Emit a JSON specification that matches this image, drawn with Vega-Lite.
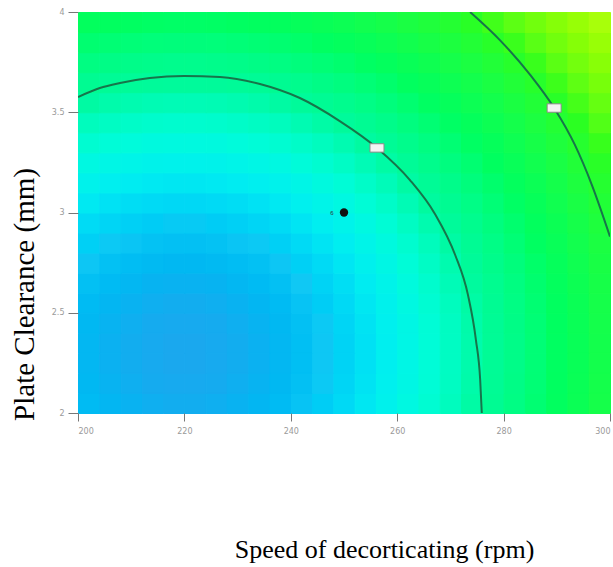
{
  "$schema": "https://vega.github.io/schema/vega-lite/v6.json",
  "width": 532,
  "height": 401,
  "autosize": "none",
  "padding": {"left": 78, "top": 12, "right": 3, "bottom": 154},
  "background": "white",
  "config": {
    "view": {"stroke": null},
    "axis": {
      "grid": false,
      "domain": false,
      "labelFontSize": 8,
      "labelColor": "#9a9a9a",
      "labelFont": "DejaVu Sans",
      "tickColor": "#777777",
      "tickSize": 8,
      "titleFont": "Liberation Serif",
      "titleFontWeight": "normal",
      "titleColor": "#000000"
    }
  },
  "datasets": {
    "grid": [
      {"x":202,"y":2.05,"f":0.24},{"x":206,"y":2.05,"f":0.17},{"x":210,"y":2.05,"f":0.12},{"x":214,"y":2.05,"f":0.08},{"x":218,"y":2.05,"f":0.06},{"x":222,"y":2.05,"f":0.06},{"x":226,"y":2.05,"f":0.08},{"x":230,"y":2.05,"f":0.12},{"x":234,"y":2.05,"f":0.17},{"x":238,"y":2.05,"f":0.24},{"x":242,"y":2.05,"f":0.34},{"x":246,"y":2.05,"f":0.45},{"x":250,"y":2.05,"f":0.57},{"x":254,"y":2.05,"f":0.72},{"x":258,"y":2.05,"f":0.88},{"x":262,"y":2.05,"f":1.07},{"x":266,"y":2.05,"f":1.27},{"x":270,"y":2.05,"f":1.49},{"x":274,"y":2.05,"f":1.72},{"x":278,"y":2.05,"f":1.98},{"x":282,"y":2.05,"f":2.25},{"x":286,"y":2.05,"f":2.54},{"x":290,"y":2.05,"f":2.85},{"x":294,"y":2.05,"f":3.18},{"x":298,"y":2.05,"f":3.53},
      {"x":202,"y":2.15,"f":0.20},{"x":206,"y":2.15,"f":0.13},{"x":210,"y":2.15,"f":0.08},{"x":214,"y":2.15,"f":0.04},{"x":218,"y":2.15,"f":0.02},{"x":222,"y":2.15,"f":0.02},{"x":226,"y":2.15,"f":0.04},{"x":230,"y":2.15,"f":0.08},{"x":234,"y":2.15,"f":0.13},{"x":238,"y":2.15,"f":0.20},{"x":242,"y":2.15,"f":0.30},{"x":246,"y":2.15,"f":0.41},{"x":250,"y":2.15,"f":0.53},{"x":254,"y":2.15,"f":0.68},{"x":258,"y":2.15,"f":0.84},{"x":262,"y":2.15,"f":1.03},{"x":266,"y":2.15,"f":1.23},{"x":270,"y":2.15,"f":1.45},{"x":274,"y":2.15,"f":1.68},{"x":278,"y":2.15,"f":1.94},{"x":282,"y":2.15,"f":2.21},{"x":286,"y":2.15,"f":2.50},{"x":290,"y":2.15,"f":2.81},{"x":294,"y":2.15,"f":3.14},{"x":298,"y":2.15,"f":3.49},
      {"x":202,"y":2.25,"f":0.18},{"x":206,"y":2.25,"f":0.11},{"x":210,"y":2.25,"f":0.06},{"x":214,"y":2.25,"f":0.02},{"x":218,"y":2.25,"f":0.00},{"x":222,"y":2.25,"f":0.00},{"x":226,"y":2.25,"f":0.02},{"x":230,"y":2.25,"f":0.06},{"x":234,"y":2.25,"f":0.11},{"x":238,"y":2.25,"f":0.18},{"x":242,"y":2.25,"f":0.28},{"x":246,"y":2.25,"f":0.39},{"x":250,"y":2.25,"f":0.51},{"x":254,"y":2.25,"f":0.66},{"x":258,"y":2.25,"f":0.82},{"x":262,"y":2.25,"f":1.01},{"x":266,"y":2.25,"f":1.21},{"x":270,"y":2.25,"f":1.43},{"x":274,"y":2.25,"f":1.66},{"x":278,"y":2.25,"f":1.92},{"x":282,"y":2.25,"f":2.19},{"x":286,"y":2.25,"f":2.48},{"x":290,"y":2.25,"f":2.79},{"x":294,"y":2.25,"f":3.12},{"x":298,"y":2.25,"f":3.47},
      {"x":202,"y":2.35,"f":0.18},{"x":206,"y":2.35,"f":0.11},{"x":210,"y":2.35,"f":0.06},{"x":214,"y":2.35,"f":0.02},{"x":218,"y":2.35,"f":0.00},{"x":222,"y":2.35,"f":0.00},{"x":226,"y":2.35,"f":0.02},{"x":230,"y":2.35,"f":0.06},{"x":234,"y":2.35,"f":0.11},{"x":238,"y":2.35,"f":0.18},{"x":242,"y":2.35,"f":0.28},{"x":246,"y":2.35,"f":0.39},{"x":250,"y":2.35,"f":0.51},{"x":254,"y":2.35,"f":0.66},{"x":258,"y":2.35,"f":0.82},{"x":262,"y":2.35,"f":1.01},{"x":266,"y":2.35,"f":1.21},{"x":270,"y":2.35,"f":1.43},{"x":274,"y":2.35,"f":1.66},{"x":278,"y":2.35,"f":1.92},{"x":282,"y":2.35,"f":2.19},{"x":286,"y":2.35,"f":2.48},{"x":290,"y":2.35,"f":2.79},{"x":294,"y":2.35,"f":3.12},{"x":298,"y":2.35,"f":3.47},
      {"x":202,"y":2.45,"f":0.20},{"x":206,"y":2.45,"f":0.13},{"x":210,"y":2.45,"f":0.08},{"x":214,"y":2.45,"f":0.04},{"x":218,"y":2.45,"f":0.02},{"x":222,"y":2.45,"f":0.02},{"x":226,"y":2.45,"f":0.04},{"x":230,"y":2.45,"f":0.08},{"x":234,"y":2.45,"f":0.13},{"x":238,"y":2.45,"f":0.20},{"x":242,"y":2.45,"f":0.30},{"x":246,"y":2.45,"f":0.41},{"x":250,"y":2.45,"f":0.53},{"x":254,"y":2.45,"f":0.68},{"x":258,"y":2.45,"f":0.84},{"x":262,"y":2.45,"f":1.03},{"x":266,"y":2.45,"f":1.23},{"x":270,"y":2.45,"f":1.45},{"x":274,"y":2.45,"f":1.68},{"x":278,"y":2.45,"f":1.94},{"x":282,"y":2.45,"f":2.21},{"x":286,"y":2.45,"f":2.50},{"x":290,"y":2.45,"f":2.81},{"x":294,"y":2.45,"f":3.14},{"x":298,"y":2.45,"f":3.49},
      {"x":202,"y":2.55,"f":0.24},{"x":206,"y":2.55,"f":0.17},{"x":210,"y":2.55,"f":0.12},{"x":214,"y":2.55,"f":0.08},{"x":218,"y":2.55,"f":0.06},{"x":222,"y":2.55,"f":0.06},{"x":226,"y":2.55,"f":0.08},{"x":230,"y":2.55,"f":0.12},{"x":234,"y":2.55,"f":0.17},{"x":238,"y":2.55,"f":0.24},{"x":242,"y":2.55,"f":0.34},{"x":246,"y":2.55,"f":0.45},{"x":250,"y":2.55,"f":0.57},{"x":254,"y":2.55,"f":0.72},{"x":258,"y":2.55,"f":0.88},{"x":262,"y":2.55,"f":1.07},{"x":266,"y":2.55,"f":1.27},{"x":270,"y":2.55,"f":1.49},{"x":274,"y":2.55,"f":1.72},{"x":278,"y":2.55,"f":1.98},{"x":282,"y":2.55,"f":2.25},{"x":286,"y":2.55,"f":2.54},{"x":290,"y":2.55,"f":2.85},{"x":294,"y":2.55,"f":3.18},{"x":298,"y":2.55,"f":3.53},
      {"x":202,"y":2.65,"f":0.30},{"x":206,"y":2.65,"f":0.23},{"x":210,"y":2.65,"f":0.18},{"x":214,"y":2.65,"f":0.14},{"x":218,"y":2.65,"f":0.12},{"x":222,"y":2.65,"f":0.12},{"x":226,"y":2.65,"f":0.14},{"x":230,"y":2.65,"f":0.18},{"x":234,"y":2.65,"f":0.23},{"x":238,"y":2.65,"f":0.30},{"x":242,"y":2.65,"f":0.40},{"x":246,"y":2.65,"f":0.51},{"x":250,"y":2.65,"f":0.63},{"x":254,"y":2.65,"f":0.78},{"x":258,"y":2.65,"f":0.94},{"x":262,"y":2.65,"f":1.13},{"x":266,"y":2.65,"f":1.33},{"x":270,"y":2.65,"f":1.55},{"x":274,"y":2.65,"f":1.78},{"x":278,"y":2.65,"f":2.04},{"x":282,"y":2.65,"f":2.31},{"x":286,"y":2.65,"f":2.60},{"x":290,"y":2.65,"f":2.91},{"x":294,"y":2.65,"f":3.24},{"x":298,"y":2.65,"f":3.59},
      {"x":202,"y":2.75,"f":0.38},{"x":206,"y":2.75,"f":0.31},{"x":210,"y":2.75,"f":0.26},{"x":214,"y":2.75,"f":0.22},{"x":218,"y":2.75,"f":0.20},{"x":222,"y":2.75,"f":0.20},{"x":226,"y":2.75,"f":0.22},{"x":230,"y":2.75,"f":0.26},{"x":234,"y":2.75,"f":0.31},{"x":238,"y":2.75,"f":0.38},{"x":242,"y":2.75,"f":0.48},{"x":246,"y":2.75,"f":0.59},{"x":250,"y":2.75,"f":0.71},{"x":254,"y":2.75,"f":0.86},{"x":258,"y":2.75,"f":1.02},{"x":262,"y":2.75,"f":1.21},{"x":266,"y":2.75,"f":1.41},{"x":270,"y":2.75,"f":1.63},{"x":274,"y":2.75,"f":1.86},{"x":278,"y":2.75,"f":2.12},{"x":282,"y":2.75,"f":2.39},{"x":286,"y":2.75,"f":2.68},{"x":290,"y":2.75,"f":2.99},{"x":294,"y":2.75,"f":3.32},{"x":298,"y":2.75,"f":3.67},
      {"x":202,"y":2.85,"f":0.48},{"x":206,"y":2.85,"f":0.41},{"x":210,"y":2.85,"f":0.36},{"x":214,"y":2.85,"f":0.32},{"x":218,"y":2.85,"f":0.30},{"x":222,"y":2.85,"f":0.30},{"x":226,"y":2.85,"f":0.32},{"x":230,"y":2.85,"f":0.36},{"x":234,"y":2.85,"f":0.41},{"x":238,"y":2.85,"f":0.48},{"x":242,"y":2.85,"f":0.58},{"x":246,"y":2.85,"f":0.69},{"x":250,"y":2.85,"f":0.81},{"x":254,"y":2.85,"f":0.96},{"x":258,"y":2.85,"f":1.12},{"x":262,"y":2.85,"f":1.31},{"x":266,"y":2.85,"f":1.51},{"x":270,"y":2.85,"f":1.73},{"x":274,"y":2.85,"f":1.96},{"x":278,"y":2.85,"f":2.22},{"x":282,"y":2.85,"f":2.49},{"x":286,"y":2.85,"f":2.78},{"x":290,"y":2.85,"f":3.09},{"x":294,"y":2.85,"f":3.42},{"x":298,"y":2.85,"f":3.77},
      {"x":202,"y":2.95,"f":0.60},{"x":206,"y":2.95,"f":0.53},{"x":210,"y":2.95,"f":0.48},{"x":214,"y":2.95,"f":0.44},{"x":218,"y":2.95,"f":0.42},{"x":222,"y":2.95,"f":0.42},{"x":226,"y":2.95,"f":0.44},{"x":230,"y":2.95,"f":0.48},{"x":234,"y":2.95,"f":0.53},{"x":238,"y":2.95,"f":0.60},{"x":242,"y":2.95,"f":0.70},{"x":246,"y":2.95,"f":0.81},{"x":250,"y":2.95,"f":0.93},{"x":254,"y":2.95,"f":1.08},{"x":258,"y":2.95,"f":1.24},{"x":262,"y":2.95,"f":1.43},{"x":266,"y":2.95,"f":1.63},{"x":270,"y":2.95,"f":1.85},{"x":274,"y":2.95,"f":2.08},{"x":278,"y":2.95,"f":2.34},{"x":282,"y":2.95,"f":2.61},{"x":286,"y":2.95,"f":2.90},{"x":290,"y":2.95,"f":3.21},{"x":294,"y":2.95,"f":3.54},{"x":298,"y":2.95,"f":3.89},
      {"x":202,"y":3.05,"f":0.74},{"x":206,"y":3.05,"f":0.67},{"x":210,"y":3.05,"f":0.62},{"x":214,"y":3.05,"f":0.58},{"x":218,"y":3.05,"f":0.56},{"x":222,"y":3.05,"f":0.56},{"x":226,"y":3.05,"f":0.58},{"x":230,"y":3.05,"f":0.62},{"x":234,"y":3.05,"f":0.67},{"x":238,"y":3.05,"f":0.74},{"x":242,"y":3.05,"f":0.84},{"x":246,"y":3.05,"f":0.95},{"x":250,"y":3.05,"f":1.07},{"x":254,"y":3.05,"f":1.22},{"x":258,"y":3.05,"f":1.38},{"x":262,"y":3.05,"f":1.57},{"x":266,"y":3.05,"f":1.77},{"x":270,"y":3.05,"f":1.99},{"x":274,"y":3.05,"f":2.22},{"x":278,"y":3.05,"f":2.48},{"x":282,"y":3.05,"f":2.75},{"x":286,"y":3.05,"f":3.04},{"x":290,"y":3.05,"f":3.35},{"x":294,"y":3.05,"f":3.68},{"x":298,"y":3.05,"f":4.03},
      {"x":202,"y":3.15,"f":0.90},{"x":206,"y":3.15,"f":0.83},{"x":210,"y":3.15,"f":0.78},{"x":214,"y":3.15,"f":0.74},{"x":218,"y":3.15,"f":0.72},{"x":222,"y":3.15,"f":0.72},{"x":226,"y":3.15,"f":0.74},{"x":230,"y":3.15,"f":0.78},{"x":234,"y":3.15,"f":0.83},{"x":238,"y":3.15,"f":0.90},{"x":242,"y":3.15,"f":1.00},{"x":246,"y":3.15,"f":1.11},{"x":250,"y":3.15,"f":1.23},{"x":254,"y":3.15,"f":1.38},{"x":258,"y":3.15,"f":1.54},{"x":262,"y":3.15,"f":1.73},{"x":266,"y":3.15,"f":1.93},{"x":270,"y":3.15,"f":2.15},{"x":274,"y":3.15,"f":2.38},{"x":278,"y":3.15,"f":2.64},{"x":282,"y":3.15,"f":2.91},{"x":286,"y":3.15,"f":3.20},{"x":290,"y":3.15,"f":3.51},{"x":294,"y":3.15,"f":3.84},{"x":298,"y":3.15,"f":4.19},
      {"x":202,"y":3.25,"f":1.08},{"x":206,"y":3.25,"f":1.01},{"x":210,"y":3.25,"f":0.96},{"x":214,"y":3.25,"f":0.92},{"x":218,"y":3.25,"f":0.90},{"x":222,"y":3.25,"f":0.90},{"x":226,"y":3.25,"f":0.92},{"x":230,"y":3.25,"f":0.96},{"x":234,"y":3.25,"f":1.01},{"x":238,"y":3.25,"f":1.08},{"x":242,"y":3.25,"f":1.18},{"x":246,"y":3.25,"f":1.29},{"x":250,"y":3.25,"f":1.41},{"x":254,"y":3.25,"f":1.56},{"x":258,"y":3.25,"f":1.72},{"x":262,"y":3.25,"f":1.91},{"x":266,"y":3.25,"f":2.11},{"x":270,"y":3.25,"f":2.33},{"x":274,"y":3.25,"f":2.56},{"x":278,"y":3.25,"f":2.82},{"x":282,"y":3.25,"f":3.09},{"x":286,"y":3.25,"f":3.38},{"x":290,"y":3.25,"f":3.69},{"x":294,"y":3.25,"f":4.02},{"x":298,"y":3.25,"f":4.37},
      {"x":202,"y":3.35,"f":1.28},{"x":206,"y":3.35,"f":1.21},{"x":210,"y":3.35,"f":1.16},{"x":214,"y":3.35,"f":1.12},{"x":218,"y":3.35,"f":1.10},{"x":222,"y":3.35,"f":1.10},{"x":226,"y":3.35,"f":1.12},{"x":230,"y":3.35,"f":1.16},{"x":234,"y":3.35,"f":1.21},{"x":238,"y":3.35,"f":1.28},{"x":242,"y":3.35,"f":1.38},{"x":246,"y":3.35,"f":1.49},{"x":250,"y":3.35,"f":1.61},{"x":254,"y":3.35,"f":1.76},{"x":258,"y":3.35,"f":1.92},{"x":262,"y":3.35,"f":2.11},{"x":266,"y":3.35,"f":2.31},{"x":270,"y":3.35,"f":2.53},{"x":274,"y":3.35,"f":2.76},{"x":278,"y":3.35,"f":3.02},{"x":282,"y":3.35,"f":3.29},{"x":286,"y":3.35,"f":3.58},{"x":290,"y":3.35,"f":3.89},{"x":294,"y":3.35,"f":4.22},{"x":298,"y":3.35,"f":4.57},
      {"x":202,"y":3.45,"f":1.50},{"x":206,"y":3.45,"f":1.43},{"x":210,"y":3.45,"f":1.38},{"x":214,"y":3.45,"f":1.34},{"x":218,"y":3.45,"f":1.32},{"x":222,"y":3.45,"f":1.32},{"x":226,"y":3.45,"f":1.34},{"x":230,"y":3.45,"f":1.38},{"x":234,"y":3.45,"f":1.43},{"x":238,"y":3.45,"f":1.50},{"x":242,"y":3.45,"f":1.60},{"x":246,"y":3.45,"f":1.71},{"x":250,"y":3.45,"f":1.83},{"x":254,"y":3.45,"f":1.98},{"x":258,"y":3.45,"f":2.14},{"x":262,"y":3.45,"f":2.33},{"x":266,"y":3.45,"f":2.53},{"x":270,"y":3.45,"f":2.75},{"x":274,"y":3.45,"f":2.98},{"x":278,"y":3.45,"f":3.24},{"x":282,"y":3.45,"f":3.51},{"x":286,"y":3.45,"f":3.80},{"x":290,"y":3.45,"f":4.11},{"x":294,"y":3.45,"f":4.44},{"x":298,"y":3.45,"f":4.79},
      {"x":202,"y":3.55,"f":1.74},{"x":206,"y":3.55,"f":1.67},{"x":210,"y":3.55,"f":1.62},{"x":214,"y":3.55,"f":1.58},{"x":218,"y":3.55,"f":1.56},{"x":222,"y":3.55,"f":1.56},{"x":226,"y":3.55,"f":1.58},{"x":230,"y":3.55,"f":1.62},{"x":234,"y":3.55,"f":1.67},{"x":238,"y":3.55,"f":1.74},{"x":242,"y":3.55,"f":1.84},{"x":246,"y":3.55,"f":1.95},{"x":250,"y":3.55,"f":2.07},{"x":254,"y":3.55,"f":2.22},{"x":258,"y":3.55,"f":2.38},{"x":262,"y":3.55,"f":2.57},{"x":266,"y":3.55,"f":2.77},{"x":270,"y":3.55,"f":2.99},{"x":274,"y":3.55,"f":3.22},{"x":278,"y":3.55,"f":3.48},{"x":282,"y":3.55,"f":3.75},{"x":286,"y":3.55,"f":4.04},{"x":290,"y":3.55,"f":4.35},{"x":294,"y":3.55,"f":4.68},{"x":298,"y":3.55,"f":5.03},
      {"x":202,"y":3.65,"f":2.00},{"x":206,"y":3.65,"f":1.93},{"x":210,"y":3.65,"f":1.88},{"x":214,"y":3.65,"f":1.84},{"x":218,"y":3.65,"f":1.82},{"x":222,"y":3.65,"f":1.82},{"x":226,"y":3.65,"f":1.84},{"x":230,"y":3.65,"f":1.88},{"x":234,"y":3.65,"f":1.93},{"x":238,"y":3.65,"f":2.00},{"x":242,"y":3.65,"f":2.10},{"x":246,"y":3.65,"f":2.21},{"x":250,"y":3.65,"f":2.33},{"x":254,"y":3.65,"f":2.48},{"x":258,"y":3.65,"f":2.64},{"x":262,"y":3.65,"f":2.83},{"x":266,"y":3.65,"f":3.03},{"x":270,"y":3.65,"f":3.25},{"x":274,"y":3.65,"f":3.48},{"x":278,"y":3.65,"f":3.74},{"x":282,"y":3.65,"f":4.01},{"x":286,"y":3.65,"f":4.30},{"x":290,"y":3.65,"f":4.61},{"x":294,"y":3.65,"f":4.94},{"x":298,"y":3.65,"f":5.29},
      {"x":202,"y":3.75,"f":2.28},{"x":206,"y":3.75,"f":2.21},{"x":210,"y":3.75,"f":2.16},{"x":214,"y":3.75,"f":2.12},{"x":218,"y":3.75,"f":2.10},{"x":222,"y":3.75,"f":2.10},{"x":226,"y":3.75,"f":2.12},{"x":230,"y":3.75,"f":2.16},{"x":234,"y":3.75,"f":2.21},{"x":238,"y":3.75,"f":2.28},{"x":242,"y":3.75,"f":2.38},{"x":246,"y":3.75,"f":2.49},{"x":250,"y":3.75,"f":2.61},{"x":254,"y":3.75,"f":2.76},{"x":258,"y":3.75,"f":2.92},{"x":262,"y":3.75,"f":3.11},{"x":266,"y":3.75,"f":3.31},{"x":270,"y":3.75,"f":3.53},{"x":274,"y":3.75,"f":3.76},{"x":278,"y":3.75,"f":4.02},{"x":282,"y":3.75,"f":4.29},{"x":286,"y":3.75,"f":4.58},{"x":290,"y":3.75,"f":4.89},{"x":294,"y":3.75,"f":5.22},{"x":298,"y":3.75,"f":5.57},
      {"x":202,"y":3.85,"f":2.58},{"x":206,"y":3.85,"f":2.51},{"x":210,"y":3.85,"f":2.46},{"x":214,"y":3.85,"f":2.42},{"x":218,"y":3.85,"f":2.40},{"x":222,"y":3.85,"f":2.40},{"x":226,"y":3.85,"f":2.42},{"x":230,"y":3.85,"f":2.46},{"x":234,"y":3.85,"f":2.51},{"x":238,"y":3.85,"f":2.58},{"x":242,"y":3.85,"f":2.68},{"x":246,"y":3.85,"f":2.79},{"x":250,"y":3.85,"f":2.91},{"x":254,"y":3.85,"f":3.06},{"x":258,"y":3.85,"f":3.22},{"x":262,"y":3.85,"f":3.41},{"x":266,"y":3.85,"f":3.61},{"x":270,"y":3.85,"f":3.83},{"x":274,"y":3.85,"f":4.06},{"x":278,"y":3.85,"f":4.32},{"x":282,"y":3.85,"f":4.59},{"x":286,"y":3.85,"f":4.88},{"x":290,"y":3.85,"f":5.19},{"x":294,"y":3.85,"f":5.52},{"x":298,"y":3.85,"f":5.87},
      {"x":202,"y":3.95,"f":2.90},{"x":206,"y":3.95,"f":2.83},{"x":210,"y":3.95,"f":2.78},{"x":214,"y":3.95,"f":2.74},{"x":218,"y":3.95,"f":2.72},{"x":222,"y":3.95,"f":2.72},{"x":226,"y":3.95,"f":2.74},{"x":230,"y":3.95,"f":2.78},{"x":234,"y":3.95,"f":2.83},{"x":238,"y":3.95,"f":2.90},{"x":242,"y":3.95,"f":3.00},{"x":246,"y":3.95,"f":3.11},{"x":250,"y":3.95,"f":3.23},{"x":254,"y":3.95,"f":3.38},{"x":258,"y":3.95,"f":3.54},{"x":262,"y":3.95,"f":3.73},{"x":266,"y":3.95,"f":3.93},{"x":270,"y":3.95,"f":4.15},{"x":274,"y":3.95,"f":4.38},{"x":278,"y":3.95,"f":4.64},{"x":282,"y":3.95,"f":4.91},{"x":286,"y":3.95,"f":5.20},{"x":290,"y":3.95,"f":5.51},{"x":294,"y":3.95,"f":5.84},{"x":298,"y":3.95,"f":6.19}
    ],
    "contours": [
      {"level":"c1","i":1,"x":200.0,"y":3.576},
      {"level":"c1","i":2,"x":204.1,"y":3.621},
      {"level":"c1","i":3,"x":207.9,"y":3.646},
      {"level":"c1","i":4,"x":213.5,"y":3.671},
      {"level":"c1","i":5,"x":219.9,"y":3.681},
      {"level":"c1","i":6,"x":226.7,"y":3.676},
      {"level":"c1","i":7,"x":234.2,"y":3.641},
      {"level":"c1","i":8,"x":241.7,"y":3.571},
      {"level":"c1","i":9,"x":249.2,"y":3.456},
      {"level":"c1","i":10,"x":256.2,"y":3.322},
      {"level":"c1","i":11,"x":262.4,"y":3.162},
      {"level":"c1","i":12,"x":267.1,"y":2.993},
      {"level":"c1","i":13,"x":270.9,"y":2.788},
      {"level":"c1","i":14,"x":273.3,"y":2.589},
      {"level":"c1","i":15,"x":274.8,"y":2.364},
      {"level":"c1","i":16,"x":275.6,"y":2.165},
      {"level":"c1","i":17,"x":275.9,"y":2.0},
      {"level":"c2","i":1,"x":273.7,"y":4.0},
      {"level":"c2","i":2,"x":279.3,"y":3.86},
      {"level":"c2","i":3,"x":285.0,"y":3.686},
      {"level":"c2","i":4,"x":289.5,"y":3.521},
      {"level":"c2","i":5,"x":293.4,"y":3.337},
      {"level":"c2","i":6,"x":296.6,"y":3.137},
      {"level":"c2","i":7,"x":300.0,"y":2.88}
    ],
    "labels": [
      {"x":256.2,"y":3.322},
      {"x":289.5,"y":3.521}
    ],
    "design": [
      {"x":250,"y":3.0,"n":"6"}
    ]
  },
  "layer": [
    {
      "data": {"name": "grid"},
      "mark": {"type": "rect", "strokeWidth": 1},
      "encoding": {
        "x": {
          "field": "x", "type": "quantitative",
          "bin": {"extent": [200, 300], "step": 4},
          "scale": {"domain": [200, 300], "nice": false, "zero": false},
          "axis": {"values": [200, 220, 240, 260, 280, 300], "format": "d", "labelPadding": 6,
                   "titleX": 306, "titleY": 144, "titleAlign": "center", "titleBaseline": "alphabetic", "titleFontSize": 26},
          "title": "Speed of decorticating (rpm)"
        },
        "y": {
          "field": "y", "type": "quantitative",
          "bin": {"extent": [2, 4], "step": 0.1},
          "scale": {"domain": [2, 4], "nice": false, "zero": false},
          "axis": {"values": [2, 2.5, 3, 3.5, 4], "format": ".1~f", "labelPadding": 4, "tickSize": 10,
                   "titleX": -45, "titleY": 282, "titleAlign": "center", "titleBaseline": "alphabetic", "titleFontSize": 29, "titleAngle": -90},
          "title": "Plate Clearance (mm)"
        },
        "fill": {
          "field": "f", "type": "quantitative", "legend": null,
          "scale": {"domain": [0, 0.4, 0.8, 1.2, 1.8, 2.8, 4.5, 6.2],
                    "range": ["#1aa8ee", "#10c8f4", "#00eef0", "#00fcd8", "#00fa9c", "#00ff60", "#2cff1e", "#a8ff0a"]}
        },
        "stroke": {
          "field": "f", "type": "quantitative", "legend": null,
          "scale": {"domain": [0, 0.4, 0.8, 1.2, 1.8, 2.8, 4.5, 6.2],
                    "range": ["#1aa8ee", "#10c8f4", "#00eef0", "#00fcd8", "#00fa9c", "#00ff60", "#2cff1e", "#a8ff0a"]}
        }
      }
    },
    {
      "data": {"name": "contours"},
      "mark": {"type": "line", "color": "#17754a", "strokeWidth": 2, "interpolate": "monotone", "clip": true},
      "encoding": {
        "x": {"field": "x", "type": "quantitative", "title": "Speed of decorticating (rpm)"},
        "y": {"field": "y", "type": "quantitative", "title": "Plate Clearance (mm)"},
        "detail": {"field": "level", "type": "nominal"},
        "order": {"field": "i", "type": "quantitative"}
      }
    },
    {
      "data": {"name": "labels"},
      "mark": {"type": "point", "shape": "M-1,-0.6L1,-0.6L1,0.6L-1,0.6Z", "size": 196, "filled": true, "fill": "#f4f4f4", "stroke": "#8a8a8a", "strokeWidth": 1, "opacity": 1},
      "encoding": {
        "x": {"field": "x", "type": "quantitative", "title": "Speed of decorticating (rpm)"},
        "y": {"field": "y", "type": "quantitative", "title": "Plate Clearance (mm)"}
      }
    },
    {
      "data": {"name": "design"},
      "mark": {"type": "circle", "size": 70, "color": "#111111", "opacity": 1},
      "encoding": {
        "x": {"field": "x", "type": "quantitative", "title": "Speed of decorticating (rpm)"},
        "y": {"field": "y", "type": "quantitative", "title": "Plate Clearance (mm)"}
      }
    },
    {
      "data": {"name": "design"},
      "mark": {"type": "text", "dx": -12, "fontSize": 6, "color": "#333333", "align": "center", "baseline": "middle"},
      "encoding": {
        "x": {"field": "x", "type": "quantitative", "title": "Speed of decorticating (rpm)"},
        "y": {"field": "y", "type": "quantitative", "title": "Plate Clearance (mm)"},
        "text": {"field": "n"}
      }
    }
  ]
}
